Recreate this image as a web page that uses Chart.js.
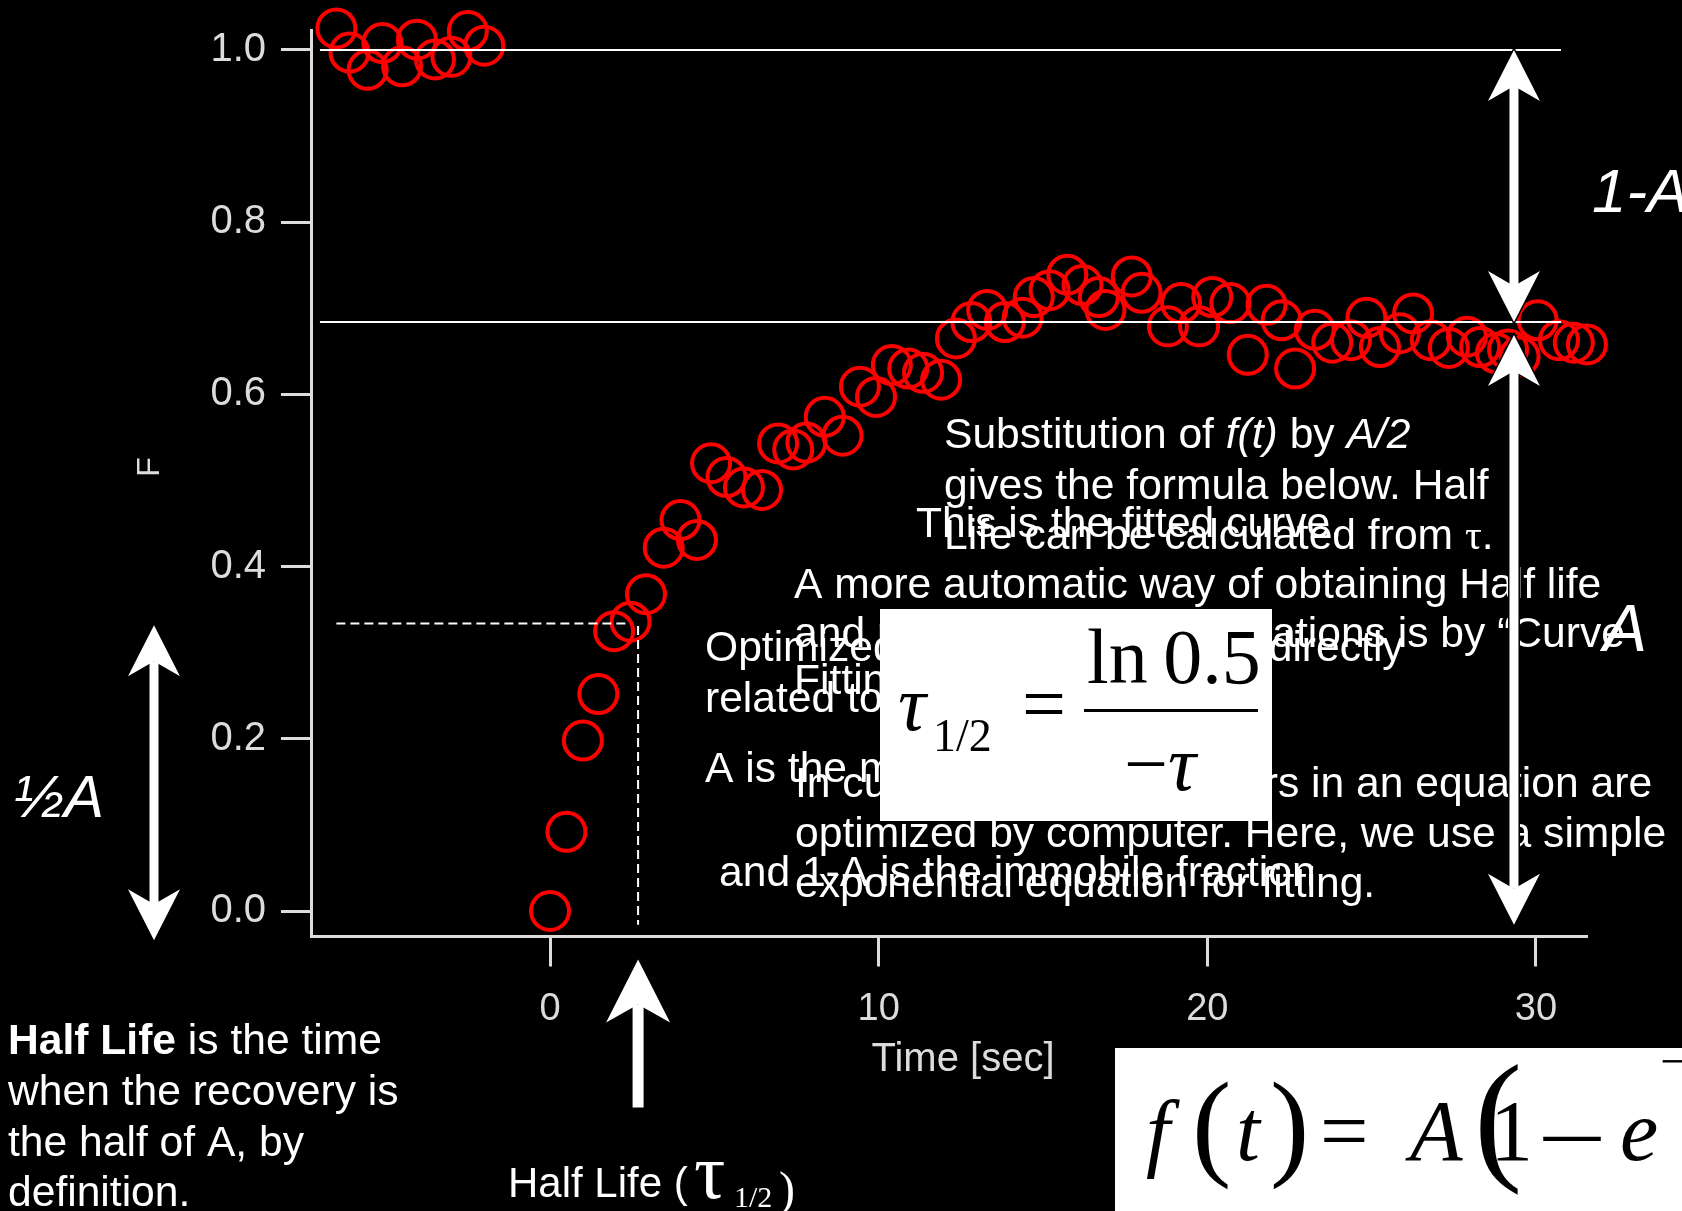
<!DOCTYPE html>
<html lang="en">
<head>
<meta charset="UTF-8">
<title>FRAP recovery - half life</title>
<style>
  html, body { margin: 0; padding: 0; background: #000; }
  canvas { display: block; }
</style>
</head>
<body>
<canvas id="frap" width="1682" height="1211"></canvas>
<script src="https://cdn.jsdelivr.net/npm/chart.js"></script>
<script>
// --- data ---
const preTimes = [-6.5, -6.1, -5.55, -5.1, -4.5, -4.05, -3.5, -3.0, -2.5, -2.0];
const preF = [1.025, 0.997, 0.977, 1.008, 0.981, 1.012, 0.989, 0.992, 1.022, 1.005];

const postTimes = [0, 0.5, 1.0, 1.47, 1.95, 2.45, 2.92, 3.46, 3.97, 4.47,
  4.9, 5.37, 5.9, 6.45, 6.94, 7.4, 7.8, 8.36, 8.9, 9.43,
  9.92, 10.4, 10.9, 11.35, 11.9, 12.35, 12.82, 13.3, 13.84, 14.38,
  14.72, 15.2, 15.74, 16.2, 16.7, 16.9, 17.7, 18.0, 18.8, 19.2,
  19.75, 20.15, 20.7, 21.23, 21.8, 22.26, 22.67, 23.27, 23.8, 24.37,
  24.84, 25.25, 25.86, 26.26, 26.8, 27.35, 27.9, 28.3, 28.78, 29.15,
  29.5, 30.05, 30.7, 31.15, 31.55];
const postF = [0.000, 0.092, 0.198, 0.252, 0.325, 0.336, 0.368, 0.422, 0.454, 0.431,
  0.520, 0.504, 0.492, 0.489, 0.543, 0.536, 0.544, 0.574, 0.552, 0.609,
  0.597, 0.634, 0.630, 0.625, 0.617, 0.665, 0.684, 0.698, 0.684, 0.689,
  0.713, 0.721, 0.739, 0.727, 0.713, 0.698, 0.737, 0.718, 0.679, 0.706,
  0.679, 0.713, 0.706, 0.646, 0.704, 0.686, 0.630, 0.675, 0.660, 0.663,
  0.689, 0.655, 0.671, 0.694, 0.663, 0.654, 0.667, 0.655, 0.648, 0.652,
  0.644, 0.686, 0.663, 0.660, 0.658];

// white reference lines: pre-bleach level and recovered plateau
const levelTimes = [-7.0, 30.76];
const levels = [1.0, 0.684];

// half life guide (dashed)
const halfLevel = 0.334;
const halfTime = 2.68;
const halfLineTimes = [-6.5, 2.3];
const halfDropF = [0.331, -0.016];

const xTickValues = [0, 10, 20, 30];
const xTickLabels = ['0', '10', '20', '30'];
const yTickValues = [0, 0.2, 0.4, 0.6, 0.8, 1.0];
const yTickLabels = ['0.0', '0.2', '0.4', '0.6', '0.8', '1.0'];

const AXIS = '#dcdcdc';
const SANS = '"Liberation Sans", Arial, sans-serif';
const SERIF = '"Liberation Serif", "Times New Roman", serif';

Chart.defaults.font.family = SANS;

function pts(xs, ys) {
  return xs.map((x, i) => ({ x: x, y: Array.isArray(ys) ? ys[i] : ys }));
}

// draw a run of differently styled text pieces one after the other
function runs(ctx, x, y, parts) {
  parts.forEach(p => {
    ctx.font = p[1];
    ctx.fillText(p[0], x, y);
    x += ctx.measureText(p[0]).width;
  });
}

// text stretched sideways to a given width
function fitText(ctx, str, x, y, font, width) {
  ctx.save();
  ctx.font = font;
  const sx = width / ctx.measureText(str).width;
  ctx.translate(x, y);
  ctx.scale(sx, 1);
  ctx.fillText(str, 0, 0);
  ctx.restore();
}

function arrowHead(ctx, x, tip, dir, w, l, n) {
  ctx.moveTo(x, tip);
  ctx.lineTo(x + w, tip - dir * l);
  ctx.lineTo(x, tip - dir * n);
  ctx.lineTo(x - w, tip - dir * l);
  ctx.closePath();
}

// vertical white arrow from yTop to yBot, heads where asked
function arrow(ctx, x, yTop, yBot, o) {
  const path = new Path2D();
  const y0 = o.up ? yTop + o.n : yTop;
  const y1 = o.down ? yBot - o.n : yBot;
  path.rect(x - o.shaft / 2, y0, o.shaft, y1 - y0);
  const p = new Path2D();
  if (o.up) { arrowHead(p, x, yTop, -1, o.w, o.l, o.n); }
  const q = new Path2D();
  if (o.down) { arrowHead(q, x, yBot, 1, o.w, o.l, o.n); }
  ctx.save();
  ctx.strokeStyle = '#000';
  ctx.lineWidth = 3;
  [path, p, q].forEach(s => ctx.stroke(s));
  ctx.fillStyle = '#fff';
  [path, p, q].forEach(s => ctx.fill(s));
  ctx.restore();
}

const blackBg = {
  id: 'blackBg',
  beforeDraw(chart) {
    const ctx = chart.ctx;
    ctx.save();
    ctx.fillStyle = '#000';
    ctx.fillRect(0, 0, chart.width, chart.height);
    ctx.restore();
  }
};

const slideNotes = {
  id: 'slideNotes',
  afterDraw(chart) {
    const ctx = chart.ctx;
    const xs = chart.scales.x, ys = chart.scales.y;
    const f42 = '42.6px ' + SANS, i42 = 'italic 42.6px ' + SANS;
    ctx.save();

    // axis titles
    ctx.fillStyle = AXIS;
    ctx.textAlign = 'center';
    ctx.textBaseline = 'middle';
    ctx.font = '40px ' + SANS;
    ctx.fillText('Time [sec]', 963, 1060);
    ctx.save();
    ctx.translate(150, 467);
    ctx.rotate(-Math.PI / 2);
    ctx.font = '32px ' + SANS;
    ctx.fillText('F', 0, 0);
    ctx.restore();

    ctx.fillStyle = '#fff';
    ctx.textBaseline = 'alphabetic';
    ctx.textAlign = 'left';

    // overlapping text boxes of the slide
    runs(ctx, 944, 448, [['Substitution of ', f42], ['f(t)', i42], [' by ', f42], ['A/2', i42]]);
    runs(ctx, 944, 499, [['gives the formula below. Half', f42]]);
    runs(ctx, 944, 549, [['Life can be calculated from ', f42], ['\u03c4', '42px ' + SERIF], ['.', f42]]);
    runs(ctx, 916, 537, [['This is the fitted curve.', f42]]);

    runs(ctx, 794, 598, [['A more automatic way of obtaining Half life', f42]]);
    runs(ctx, 794, 647, [['and parameters from equations is by \u201cCurve', f42]]);
    runs(ctx, 794, 694, [['Fitting\u201d.', f42]]);

    runs(ctx, 795, 797, [['In curve fitting, parameters in an equation are', f42]]);
    runs(ctx, 795, 847, [['optimized by computer. Here, we use a simple', f42]]);
    runs(ctx, 795, 897, [['exponential equation for fitting.', f42]]);

    runs(ctx, 705, 661, [['Optimized values A and \u03c4 are directly', f42]]);
    runs(ctx, 705, 712, [['related to the fitting curve.', f42]]);
    runs(ctx, 705, 782, [['A is the mobile fraction', f42]]);
    runs(ctx, 719, 886, [['and 1-A is the immobile fraction', f42]]);

    // half life formula box
    ctx.fillStyle = '#fff';
    ctx.fillRect(880, 609, 392, 212);
    ctx.fillStyle = '#000';
    runs(ctx, 898, 730, [['\u03c4', 'italic 78px ' + SERIF]]);
    runs(ctx, 933, 751, [['1/2', '46px ' + SERIF]]);
    runs(ctx, 1022, 730, [['=', '78px ' + SERIF]]);
    ctx.fillRect(1084, 709, 174, 3);
    runs(ctx, 1087, 683, [['ln\u20090.5', '78px ' + SERIF]]);
    runs(ctx, 1124, 790, [['\u2212', '78px ' + SERIF], ['\u03c4', 'italic 78px ' + SERIF]]);

    // arrows
    const xa = xs.getPixelForValue(29.33);
    const head = { w: 26, l: 51, n: 36, shaft: 9 };
    arrow(ctx, xa, ys.getPixelForValue(levels[0]), ys.getPixelForValue(levels[1]),
      Object.assign({ up: true, down: true }, head));
    arrow(ctx, xa, ys.getPixelForValue(0.669), ys.getPixelForValue(-0.016),
      Object.assign({ up: true, down: true }, head));
    arrow(ctx, 154, ys.getPixelForValue(0.332), ys.getPixelForValue(-0.034),
      Object.assign({ up: true, down: true }, head));
    const xh = xs.getPixelForValue(halfTime);
    arrow(ctx, xh, chart.chartArea.bottom + 23, chart.chartArea.bottom + 171,
      { up: true, down: false, w: 32, l: 63, n: 45, shaft: 11 });

    // big italic labels
    ctx.fillStyle = '#fff';
    runs(ctx, 1592, 212, [['1-A', 'italic 62px ' + SANS]]);
    runs(ctx, 1603, 651, [['A', 'italic 66px ' + SANS]]);
    runs(ctx, 14, 817, [['\u00bdA', 'italic 60px ' + SANS]]);

    // bottom-left explanation
    const b42 = 'bold 42.6px ' + SANS;
    runs(ctx, 8, 1054, [['Half Life', b42], [' is the time', f42]]);
    runs(ctx, 8, 1105, [['when the recovery is', f42]]);
    runs(ctx, 8, 1156, [['the half of A, by', f42]]);
    runs(ctx, 8, 1206, [['definition.', f42]]);

    runs(ctx, 508, 1197, [['Half Life (', '42px ' + SANS]]);
    runs(ctx, 694, 1198, [['\u03c4', '78px ' + SERIF]]);
    runs(ctx, 734, 1207, [['1/2', '30px ' + SERIF]]);
    runs(ctx, 779, 1205, [[')', '48px ' + SERIF]]);

    // recovery formula box
    ctx.fillStyle = '#fff';
    ctx.fillRect(1115, 1048, 567, 163);
    ctx.fillStyle = '#000';
    runs(ctx, 1146, 1160, [['f', 'italic 86px ' + SERIF]]);
    runs(ctx, 1192, 1164, [['(', '118px ' + SERIF]]);
    runs(ctx, 1236, 1160, [['t', 'italic 86px ' + SERIF]]);
    runs(ctx, 1270, 1164, [[')', '118px ' + SERIF]]);
    runs(ctx, 1320, 1160, [['=', '86px ' + SERIF]]);
    runs(ctx, 1410, 1160, [['A', 'italic 86px ' + SERIF]]);
    runs(ctx, 1474, 1164, [['(', '145px ' + SERIF]]);
    runs(ctx, 1490, 1160, [['1', '86px ' + SERIF]]);
    fitText(ctx, '\u2013', 1544, 1159, '86px ' + SERIF, 56);
    runs(ctx, 1620, 1160, [['e', 'italic 86px ' + SERIF]]);
    runs(ctx, 1660, 1078, [['\u2212t/\u03c4', '50px ' + SERIF]]);
    ctx.restore();
  }
};

const circleStyle = {
  showLine: false,
  pointStyle: 'circle',
  pointRadius: 19,
  pointBorderWidth: 4,
  pointBorderColor: '#ff0000',
  pointBackgroundColor: 'rgba(0,0,0,0)',
  clip: false
};

const lineStyle = {
  showLine: true,
  pointRadius: 0,
  borderColor: '#ffffff',
  borderWidth: 2,
  clip: false
};

new Chart(document.getElementById('frap'), {
  type: 'scatter',
  data: {
    datasets: [
      Object.assign({ label: 'pre-bleach level', data: pts(levelTimes, levels[0]) }, lineStyle),
      Object.assign({ label: 'plateau', data: pts(levelTimes, levels[1]) }, lineStyle),
      Object.assign({ label: 'half level', data: pts(halfLineTimes, halfLevel), borderDash: [9, 5] }, lineStyle),
      Object.assign({ label: 'half time', data: pts([halfTime, halfTime], halfDropF), borderDash: [9, 5] }, lineStyle),
      Object.assign({ label: 'pre-bleach', data: pts(preTimes, preF) }, circleStyle),
      Object.assign({ label: 'recovery', data: pts(postTimes, postF) }, circleStyle)
    ]
  },
  options: {
    responsive: false,
    animation: false,
    devicePixelRatio: 1,
    layout: { padding: { top: 30, right: 94.4, bottom: 0, left: 0 } },
    plugins: { legend: { display: false }, tooltip: { enabled: false } },
    scales: {
      x: {
        type: 'linear',
        min: -7.272,
        max: 31.57,
        bounds: 'data',
        afterBuildTicks: s => { s.ticks = xTickValues.map(v => ({ value: v })); },
        afterFit: s => { s.height = 274.5; s.paddingLeft = 0; s.paddingRight = 0; },
        ticks: {
          color: AXIS,
          font: { size: 38 },
          padding: 20,
          autoSkip: false,
          maxRotation: 0,
          callback: (v, i) => xTickLabels[i]
        },
        grid: { drawOnChartArea: false, drawTicks: true, tickLength: 30, tickWidth: 3, tickColor: AXIS },
        border: { display: true, color: AXIS, width: 3 },
        title: { display: false }
      },
      y: {
        type: 'linear',
        min: -0.0296,
        max: 1.0232,
        bounds: 'data',
        afterBuildTicks: s => { s.ticks = yTickValues.map(v => ({ value: v })); },
        afterFit: s => { s.width = 311; s.paddingTop = 0; s.paddingBottom = 0; },
        ticks: {
          color: AXIS,
          font: { size: 40 },
          padding: 15,
          autoSkip: false,
          callback: (v, i) => yTickLabels[i]
        },
        grid: { drawOnChartArea: false, drawTicks: true, tickLength: 30, tickWidth: 3, tickColor: AXIS },
        border: { display: true, color: AXIS, width: 3 },
        title: { display: false }
      }
    }
  },
  plugins: [blackBg, slideNotes]
});
</script>
</body>
</html>
